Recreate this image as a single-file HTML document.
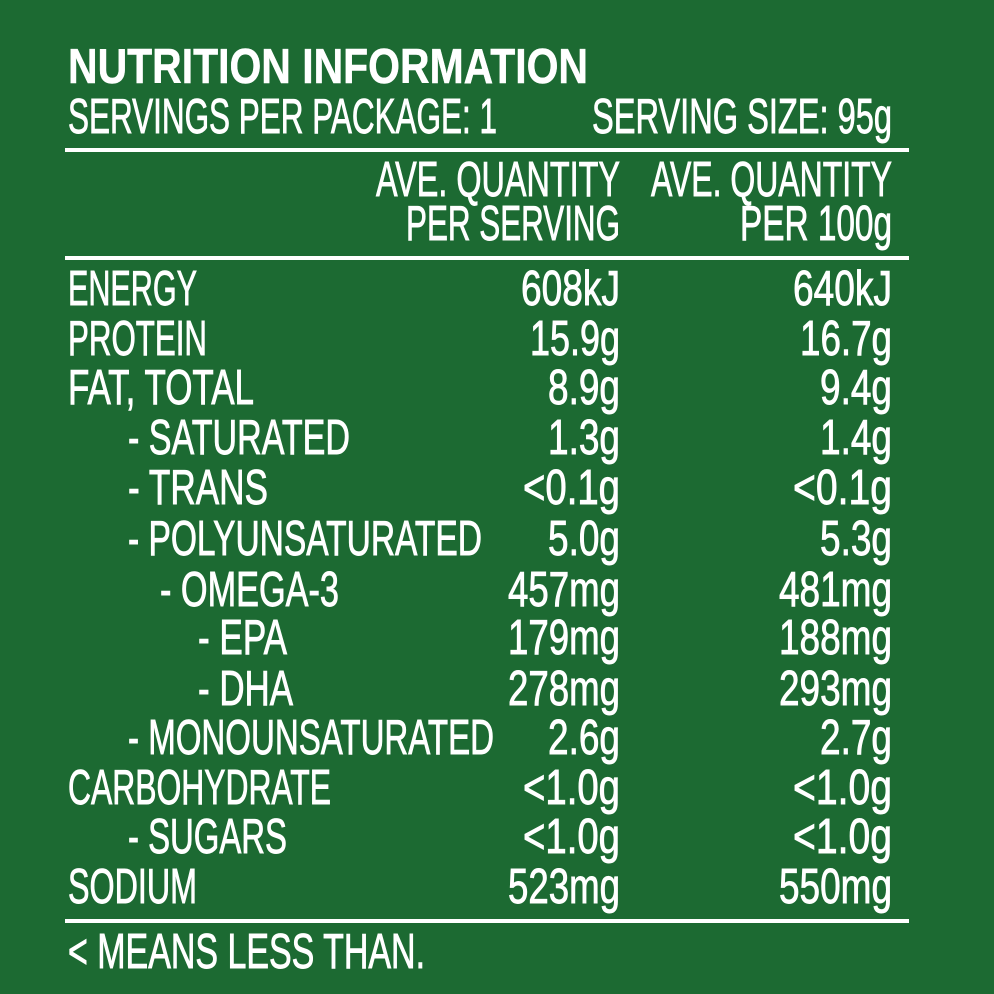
<!DOCTYPE html>
<html><head><style>
html,body{margin:0;padding:0;background:#1c6a32;}
svg{display:block}
text{font-family:"Liberation Sans",sans-serif;fill:#fff;font-size:49px;stroke:#fff;stroke-width:0.9px}
</style></head><body>
<svg width="994" height="994" viewBox="0 0 994 994" xmlns="http://www.w3.org/2000/svg">
<rect width="994" height="994" fill="#1c6a32"/>
<text x="68" y="83" font-weight="bold" font-size="51" textLength="520" lengthAdjust="spacingAndGlyphs" style="stroke-width:0.5px">NUTRITION INFORMATION</text>
<text x="68" y="133" textLength="429" lengthAdjust="spacingAndGlyphs">SERVINGS PER PACKAGE: 1</text>
<text x="592" y="133" textLength="300" lengthAdjust="spacingAndGlyphs">SERVING SIZE: 95g</text>
<rect x="65" y="148" width="844" height="4" fill="#fff"/>
<text x="376" y="196" textLength="244" lengthAdjust="spacingAndGlyphs">AVE. QUANTITY</text>
<text x="406" y="240" textLength="214" lengthAdjust="spacingAndGlyphs">PER SERVING</text>
<text x="651" y="196" textLength="241" lengthAdjust="spacingAndGlyphs">AVE. QUANTITY</text>
<text x="740" y="240" textLength="152" lengthAdjust="spacingAndGlyphs">PER 100g</text>
<rect x="65" y="256" width="844" height="4" fill="#fff"/>

<text x="68" y="305" textLength="129" lengthAdjust="spacingAndGlyphs">ENERGY</text>
<text x="68" y="355" textLength="139" lengthAdjust="spacingAndGlyphs">PROTEIN</text>
<text x="68" y="404" textLength="186" lengthAdjust="spacingAndGlyphs">FAT, TOTAL</text>
<text x="128" y="454" textLength="222" lengthAdjust="spacingAndGlyphs">- SATURATED</text>
<text x="128" y="504" textLength="140" lengthAdjust="spacingAndGlyphs">- TRANS</text>
<text x="128" y="555" textLength="354" lengthAdjust="spacingAndGlyphs">- POLYUNSATURATED</text>
<text x="160" y="606" textLength="179" lengthAdjust="spacingAndGlyphs">- OMEGA-3</text>
<text x="198" y="654" textLength="89" lengthAdjust="spacingAndGlyphs">- EPA</text>
<text x="198" y="705" textLength="95" lengthAdjust="spacingAndGlyphs">- DHA</text>
<text x="128" y="754" textLength="366" lengthAdjust="spacingAndGlyphs">- MONOUNSATURATED</text>
<text x="68" y="804" textLength="263" lengthAdjust="spacingAndGlyphs">CARBOHYDRATE</text>
<text x="128" y="853" textLength="159" lengthAdjust="spacingAndGlyphs">- SUGARS</text>
<text x="68" y="903" textLength="129" lengthAdjust="spacingAndGlyphs">SODIUM</text>

<text x="521" y="305" textLength="99" lengthAdjust="spacingAndGlyphs">608kJ</text>
<text x="530" y="355" textLength="90" lengthAdjust="spacingAndGlyphs">15.9g</text>
<text x="548" y="404" textLength="72" lengthAdjust="spacingAndGlyphs">8.9g</text>
<text x="548" y="454" textLength="72" lengthAdjust="spacingAndGlyphs">1.3g</text>
<text x="523" y="504" textLength="97" lengthAdjust="spacingAndGlyphs">&lt;0.1g</text>
<text x="548" y="555" textLength="72" lengthAdjust="spacingAndGlyphs">5.0g</text>
<text x="508" y="606" textLength="112" lengthAdjust="spacingAndGlyphs">457mg</text>
<text x="508" y="654" textLength="112" lengthAdjust="spacingAndGlyphs">179mg</text>
<text x="508" y="705" textLength="112" lengthAdjust="spacingAndGlyphs">278mg</text>
<text x="548" y="754" textLength="72" lengthAdjust="spacingAndGlyphs">2.6g</text>
<text x="523" y="804" textLength="97" lengthAdjust="spacingAndGlyphs">&lt;1.0g</text>
<text x="523" y="853" textLength="97" lengthAdjust="spacingAndGlyphs">&lt;1.0g</text>
<text x="508" y="903" textLength="112" lengthAdjust="spacingAndGlyphs">523mg</text>

<text x="793" y="305" textLength="99" lengthAdjust="spacingAndGlyphs">640kJ</text>
<text x="800" y="355" textLength="92" lengthAdjust="spacingAndGlyphs">16.7g</text>
<text x="820" y="404" textLength="72" lengthAdjust="spacingAndGlyphs">9.4g</text>
<text x="820" y="454" textLength="72" lengthAdjust="spacingAndGlyphs">1.4g</text>
<text x="793" y="504" textLength="99" lengthAdjust="spacingAndGlyphs">&lt;0.1g</text>
<text x="820" y="555" textLength="72" lengthAdjust="spacingAndGlyphs">5.3g</text>
<text x="779" y="606" textLength="113" lengthAdjust="spacingAndGlyphs">481mg</text>
<text x="779" y="654" textLength="113" lengthAdjust="spacingAndGlyphs">188mg</text>
<text x="779" y="705" textLength="113" lengthAdjust="spacingAndGlyphs">293mg</text>
<text x="820" y="754" textLength="72" lengthAdjust="spacingAndGlyphs">2.7g</text>
<text x="793" y="804" textLength="99" lengthAdjust="spacingAndGlyphs">&lt;1.0g</text>
<text x="793" y="853" textLength="99" lengthAdjust="spacingAndGlyphs">&lt;1.0g</text>
<text x="779" y="903" textLength="113" lengthAdjust="spacingAndGlyphs">550mg</text>

<rect x="65" y="919" width="844" height="4" fill="#fff"/>
<text x="68" y="968" textLength="357" lengthAdjust="spacingAndGlyphs">&lt; MEANS LESS THAN.</text>
</svg>
</body></html>
